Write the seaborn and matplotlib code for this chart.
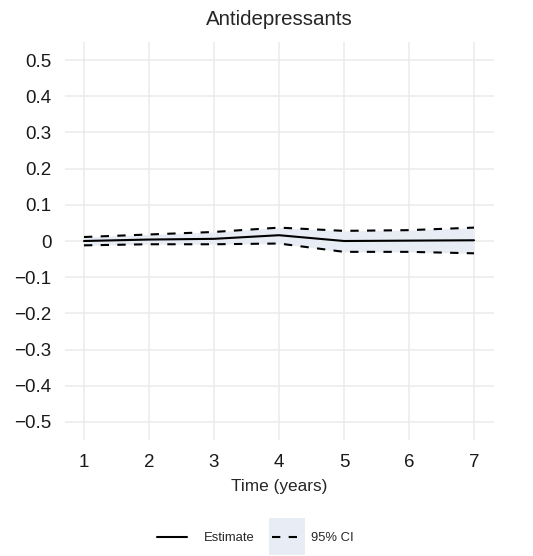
import numpy as np
import pandas as pd
import seaborn as sns
import matplotlib
matplotlib.use('Agg')
import matplotlib.pyplot as plt
from matplotlib.lines import Line2D
from matplotlib.patches import Patch, Rectangle
from matplotlib.legend_handler import HandlerPatch

# values
years = [1, 2, 3, 4, 5, 6, 7]
estimate = [0.000, 0.004, 0.006, 0.016, 0.000, 0.001, 0.002]
ci_upper = [0.011, 0.018, 0.025, 0.037, 0.028, 0.030, 0.037]
ci_lower = [-0.012, -0.009, -0.009, -0.007, -0.030, -0.030, -0.034]
y_ticks = [-0.5, -0.4, -0.3, -0.2, -0.1, 0, 0.1, 0.2, 0.3, 0.4, 0.5]

df = pd.DataFrame({'year': years, 'est': estimate, 'lo': ci_lower, 'hi': ci_upper})

sns.set_style('white')
plt.rcParams['font.family'] = ['Liberation Sans', 'DejaVu Sans']

fig = plt.figure(figsize=(5.33, 5.56), dpi=100)
ax = fig.add_axes([64.5 / 533, 116 / 556, 429 / 533, 398 / 556])

ribbon = '#e8ecf4'
dash = (0, (4, 4))
ax.fill_between(df['year'], df['lo'], df['hi'], color=ribbon, lw=0, zorder=2)
sns.lineplot(data=df, x='year', y='hi', ax=ax, color='black', lw=1.5,
             linestyle=dash, zorder=3)
sns.lineplot(data=df, x='year', y='lo', ax=ax, color='black', lw=1.5,
             linestyle=dash, zorder=3)
sns.lineplot(data=df, x='year', y='est', ax=ax, color='black', lw=1.5, zorder=4)

ax.set_xlim(0.7, 7.3)
ax.set_ylim(-0.55, 0.55)
ax.set_xticks(years)
ax.set_yticks(y_ticks)
ax.set_yticklabels([f'{v:g}'.replace('-', '\u2212') for v in y_ticks])
ax.tick_params(axis='both', length=0, labelsize=13.5, colors='#1a1a1a')
ax.tick_params(axis='x', pad=10)
ax.tick_params(axis='y', pad=9.5)
ax.grid(True, color='#ebebeb', lw=1.1, zorder=0)
ax.set_axisbelow(True)
for s in ax.spines.values():
    s.set_visible(False)

ax.set_xlabel('Time (years)', fontsize=12.4, labelpad=5.5)
ax.set_ylabel('')
ax.set_title('Antidepressants', fontsize=14.8, pad=12)


# legend key background: a tall box a bit wider than the line drawn on it
def tall_key(legend, orig_handle, xdescent, ydescent, width, height, fontsize):
    mid = -ydescent + height / 2
    return Rectangle((-xdescent - 2.2, mid - 13), width + 4.4, 26)


legend_y = 18 / 556
leg1 = fig.legend([Line2D([], [], color='black', lw=1.5)], ['Estimate'],
                  loc='center left', bbox_to_anchor=(157 / 533, legend_y),
                  frameon=False, fontsize=9.4, handlelength=2.3,
                  handletextpad=1.3, borderpad=0, borderaxespad=0)
leg2 = fig.legend([(Patch(facecolor=ribbon, edgecolor='none'),
                    Line2D([], [], color='black', lw=1.5, linestyle=dash))],
                  ['95% CI'],
                  loc='center left', bbox_to_anchor=(272 / 533, legend_y),
                  frameon=False, fontsize=9.4, handlelength=2.3,
                  handletextpad=0.69, borderpad=0, borderaxespad=0,
                  handler_map={Patch: HandlerPatch(patch_func=tall_key)})

fig.savefig('out.png', dpi=100)
